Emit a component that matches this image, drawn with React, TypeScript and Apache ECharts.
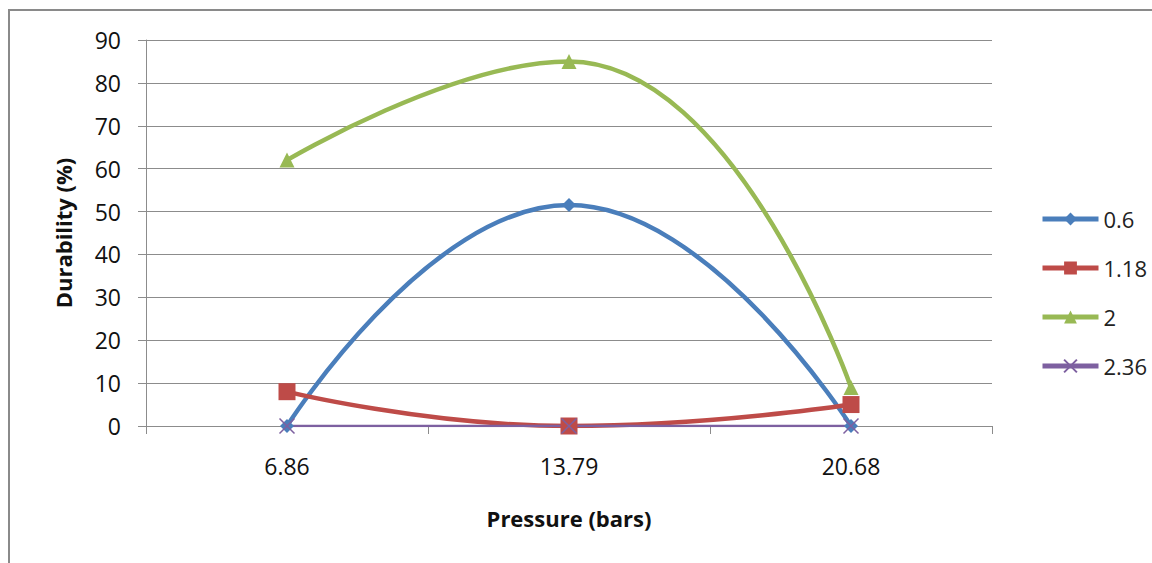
import React, { useEffect, useRef } from "react";
import * as echarts from "echarts";

// Pressure levels on the category axis
const pressures = ["6.86", "13.79", "20.68"];

// Durability (%) per series
const seriesNames = ["0.6", "1.18", "2", "2.36"];
const s06 = [0, 51.5, 0];
const s118 = [8, 0, 5];
const s2 = [62, 85, 9];
const s236 = [0, 0, 0];

const colors = ["#4A7EBB", "#BE4B48", "#98B954", "#7D60A0"];
const symbols = ["diamond", "rect", "triangle", "path://M0,0L2,2M2,0L0,2"];
const symbolSizes = [14, 17, 15, 15];

const FONT = "'Open Sans', 'Noto Sans', sans-serif";

export default function App() {
  const ref = useRef<HTMLDivElement>(null);

  useEffect(() => {
    document.body.style.margin = "0";
    if (!ref.current) return;
    const chart = echarts.init(ref.current, null, { renderer: "svg" });
    const values = [s06, s118, s2, s236];

    chart.setOption({
      animation: false,
      backgroundColor: "#ffffff",
      textStyle: { fontFamily: FONT },
      graphic: [
        {
          type: "rect",
          shape: { x: 9, y: 10, width: 1200, height: 600 },
          style: { fill: "none", stroke: "#8a8a8a", lineWidth: 2 },
          silent: true,
        },
      ],
      grid: { left: 146, right: 160, top: 40, bottom: 137 },
      legend: {
        orient: "vertical",
        left: 1040,
        top: 208,
        itemWidth: 56,
        itemHeight: 16,
        itemGap: 27,
        padding: 0,
        lineStyle: { width: 5 },
        textStyle: { fontSize: 22, color: "#222", fontFamily: FONT },
        data: seriesNames,
      },
      xAxis: {
        type: "category",
        data: pressures,
        boundaryGap: true,
        name: "Pressure (bars)",
        nameLocation: "middle",
        nameGap: 81,
        nameTextStyle: { fontSize: 22, fontWeight: "bold", color: "#111", fontFamily: FONT },
        axisLine: { lineStyle: { color: "#8c8c8c", width: 1 } },
        axisTick: { show: true, length: 8, lineStyle: { color: "#8c8c8c" } },
        axisLabel: { fontSize: 23, color: "#111", margin: 28 },
      },
      yAxis: {
        type: "value",
        min: 0,
        max: 90,
        interval: 10,
        name: "Durability (%)",
        nameLocation: "middle",
        nameGap: 72,
        nameTextStyle: { fontSize: 22, fontWeight: "bold", color: "#111", fontFamily: FONT },
        axisLine: { show: true, lineStyle: { color: "#8c8c8c", width: 1 } },
        axisTick: { show: true, length: 8, lineStyle: { color: "#8c8c8c" } },
        axisLabel: { fontSize: 23, color: "#111", margin: 25 },
        splitLine: { lineStyle: { color: "#8c8c8c", width: 1 } },
      },
      series: seriesNames.map((name, i) => ({
        name,
        type: "line",
        data: values[i],
        smooth: 0.5,
        symbol: symbols[i],
        symbolSize: symbolSizes[i],
        showAllSymbol: true,
        lineStyle: { color: colors[i], width: i === 3 ? 2.5 : 4.5 },
        itemStyle:
          i === 3
            ? { color: colors[i], borderColor: colors[i], borderWidth: 1.5 }
            : { color: colors[i] },
      })),
    });

    return () => chart.dispose();
  }, []);

  return <div ref={ref} style={{ width: 1152, height: 563 }} />;
}
